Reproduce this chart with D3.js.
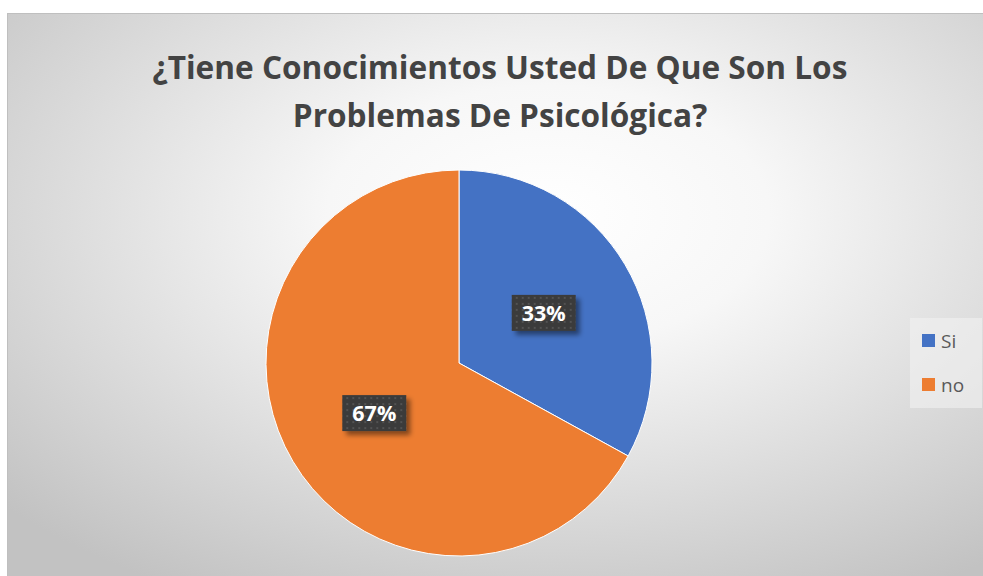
<!DOCTYPE html>
<html>
<head>
<meta charset="utf-8">
<script src="https://cdn.jsdelivr.net/npm/d3@7"></script>
<style>
  body { margin: 0; background: #fff; }
  svg text { font-family: "Open Sans", "Noto Sans", sans-serif; }
</style>
</head>
<body>
<div id="chart"></div>
<script>
// data
var categories = ["Si", "no"];
var values = [33, 67];
var colors = ["#4472C4", "#ED7D31"];
var titleLines = ["¿Tiene Conocimientos Usted De Que Son Los", "Problemas De Psicológica?"];

var W = 983, H = 576;

var svg = d3.select("#chart")
    .append("svg")
    .attr("width", W)
    .attr("height", H);

var defs = svg.append("defs");

// background gradient
var grad = defs.append("radialGradient")
    .attr("id", "bg")
    .attr("cx", "55%").attr("cy", "35%").attr("r", "75%");
grad.append("stop").attr("offset", "0%").attr("stop-color", "#ffffff");
grad.append("stop").attr("offset", "30%").attr("stop-color", "#f7f7f7");
grad.append("stop").attr("offset", "100%").attr("stop-color", "#c2c2c2");

// dotted pattern for data labels
var pat = defs.append("pattern")
    .attr("id", "dots")
    .attr("width", 6).attr("height", 6)
    .attr("patternUnits", "userSpaceOnUse");
pat.append("rect").attr("width", 6).attr("height", 6).attr("fill", "#3b3b3b");
pat.append("rect").attr("x", 2).attr("y", 2).attr("width", 2).attr("height", 2).attr("fill", "#525252");

var shadow = defs.append("filter").attr("id", "shadow")
    .attr("x", "-30%").attr("y", "-30%").attr("width", "170%").attr("height", "170%");
shadow.append("feDropShadow")
    .attr("dx", 4).attr("dy", 4).attr("stdDeviation", 2.5)
    .attr("flood-color", "#000").attr("flood-opacity", 0.45);

// chart area
svg.append("rect")
    .attr("x", 7.5).attr("y", 13.5)
    .attr("width", W).attr("height", H)
    .attr("fill", "url(#bg)")
    .attr("stroke", "#bfbfbf");

// title
svg.append("g").selectAll("text")
    .data(titleLines)
    .enter()
    .append("text")
    .attr("x", 500)
    .attr("y", function (d, i) { return 79 + i * 48; })
    .attr("text-anchor", "middle")
    .attr("font-size", 31.6)
    .attr("font-weight", "bold")
    .attr("fill", "#434343")
    .text(function (d) { return d; });

// pie
var cx = 459, cy = 363, r = 193;
var pie = d3.pie().sort(null).value(function (d) { return d; });
var arc = d3.arc().innerRadius(0).outerRadius(r);
var labelArc = d3.arc().innerRadius(r * 0.51).outerRadius(r * 0.51);
var arcs = pie(values);

var g = svg.append("g")
    .attr("transform", "translate(" + cx + "," + cy + ")");

g.selectAll("path")
    .data(arcs)
    .enter()
    .append("path")
    .attr("d", arc)
    .attr("fill", function (d, i) { return colors[i]; })
    .attr("stroke", "#fff")
    .attr("stroke-width", 1);

// data labels
var lab = g.selectAll(".lab")
    .data(arcs)
    .enter()
    .append("g")
    .attr("class", "lab")
    .attr("transform", function (d) {
        var c = labelArc.centroid(d);
        return "translate(" + c[0] + "," + c[1] + ")";
    });

lab.append("rect")
    .attr("x", -32).attr("y", -18)
    .attr("width", 64).attr("height", 36)
    .attr("fill", "url(#dots)")
    .attr("filter", "url(#shadow)");

lab.append("text")
    .attr("text-anchor", "middle")
    .attr("dy", "0.36em")
    .attr("font-size", 21.5)
    .attr("font-weight", "bold")
    .attr("fill", "#fff")
    .text(function (d) { return d.data + "%"; });

// legend
var legend = svg.append("g");
legend.append("rect")
    .attr("x", 910).attr("y", 318)
    .attr("width", 72).attr("height", 90)
    .attr("fill", "#f2f2f2")
    .attr("fill-opacity", 0.6);

var items = legend.selectAll(".item")
    .data(categories)
    .enter()
    .append("g")
    .attr("class", "item")
    .attr("transform", function (d, i) { return "translate(922," + (334 + i * 44) + ")"; });

items.append("rect")
    .attr("width", 13).attr("height", 13)
    .attr("fill", function (d, i) { return colors[i]; });

items.append("text")
    .attr("x", 19).attr("y", 7)
    .attr("dy", "0.36em")
    .attr("font-size", 19)
    .attr("fill", "#595959")
    .text(function (d) { return d; });
</script>
</body>
</html>
